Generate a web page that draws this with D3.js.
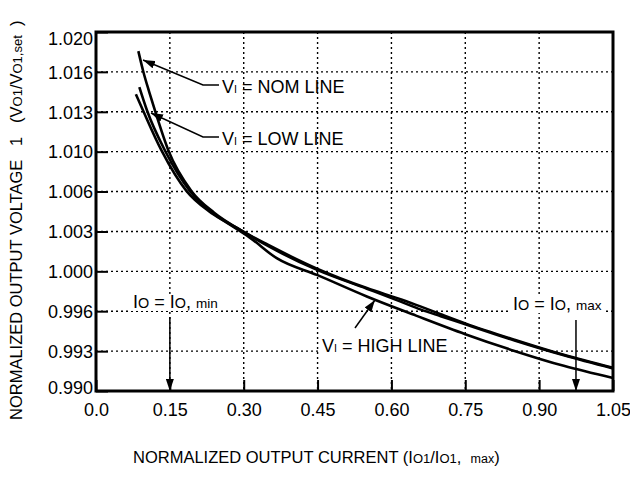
<!DOCTYPE html>
<html>
<head>
<meta charset="utf-8">
<script src="https://cdn.jsdelivr.net/npm/d3@7"></script>
<style>
  body { margin: 0; background: #fff; }
  svg { font-family: "Liberation Sans", Arial, Helvetica, sans-serif; }
  .title { white-space: pre; }
</style>
</head>
<body>
<svg id="chart" width="630" height="481"></svg>
<script>
// data
const xTicks = [0, 0.15, 0.30, 0.45, 0.60, 0.75, 0.90, 1.05];
const xTickLabels = ["0.0", "0.15", "0.30", "0.45", "0.60", "0.75", "0.90", "1.05"];
const yTicks = [0.990, 0.99333, 0.99667, 1.000, 1.00333, 1.00667, 1.010, 1.01333, 1.01667, 1.020];
const yTickLabels = ["0.990", "0.993", "0.996", "1.000", "1.003", "1.006", "1.010", "1.013", "1.016", "1.020"];

const xNom = [0.086, 0.096, 0.108, 0.120, 0.147, 0.194, 0.240, 0.300, 0.350, 0.45, 0.55, 0.62, 0.66, 0.70, 0.75, 0.85, 0.95, 1.05];
const yNom = [1.0184, 1.0167, 1.0150, 1.0134, 1.0101, 1.0067, 1.0049, 1.0033, 1.0022, 1.0002, 0.99860, 0.99765, 0.99705, 0.99642, 0.99565, 0.99428, 0.99302, 0.99194];

const xLow = [0.088, 0.104, 0.140, 0.191, 0.240, 0.300, 0.350, 0.45, 0.55, 0.62, 0.66, 0.70, 0.75, 0.85, 0.95, 1.05];
const yLow = [1.0154, 1.0134, 1.0101, 1.0067, 1.0048, 1.0033, 1.0021, 1.0001, 0.99855, 0.99745, 0.99680, 0.99625, 0.99558, 0.99422, 0.99298, 0.99188];

const xHigh = [0.081, 0.096, 0.133, 0.184, 0.230, 0.268, 0.313, 0.367, 0.45, 0.55, 0.65, 0.75, 0.85, 0.95, 1.05];
const yHigh = [1.0148, 1.0134, 1.0101, 1.0067, 1.0050, 1.0040, 1.0028, 1.0011, 0.99968, 0.99790, 0.99630, 0.99475, 0.99335, 0.99210, 0.99108];

const margin = { left: 96, right: 17, top: 32, bottom: 90 };
const width = 630 - margin.left - margin.right;
const height = 481 - margin.top - margin.bottom;

const svg = d3.select("#chart");
svg.append("defs").append("marker")
  .attr("id", "head")
  .attr("viewBox", "0 0 12 8")
  .attr("refX", 12).attr("refY", 4)
  .attr("markerWidth", 12).attr("markerHeight", 8)
  .attr("markerUnits", "userSpaceOnUse")
  .attr("orient", "auto")
  .append("path").attr("d", "M0,0 L12,4 L0,8 Z").attr("fill", "#000");

const g = svg.append("g").attr("transform", "translate(" + margin.left + "," + margin.top + ")");

const x = d3.scaleLinear().domain([0, 1.05]).range([0, width]);
const y = d3.scaleLinear().domain([0.990, 1.020]).range([height, 0]);

// dotted grid
const grid = g.append("g").attr("class", "grid");
grid.selectAll("line.v").data(xTicks.slice(1, -1)).enter().append("line")
  .attr("class", "v")
  .attr("x1", d => x(d)).attr("x2", d => x(d)).attr("y1", 0).attr("y2", height);
grid.selectAll("line.h").data(yTicks.slice(1, -1)).enter().append("line")
  .attr("class", "h")
  .attr("y1", d => y(d)).attr("y2", d => y(d)).attr("x1", 0).attr("x2", width);
grid.selectAll("line")
  .attr("stroke", "#000").attr("stroke-width", 1.4).attr("stroke-dasharray", "2,3");

// axes with inward ticks
let xAxis = g.append("g").attr("transform", "translate(0," + height + ")")
  .call(d3.axisBottom(x).tickValues(xTicks).tickSize(-11).tickPadding(12)
    .tickFormat((d, i) => xTickLabels[i]));
let yAxis = g.append("g")
  .call(d3.axisLeft(y).tickValues(yTicks).tickSize(-12).tickPadding(3)
    .tickFormat((d, i) => yTickLabels[i]));
[xAxis, yAxis].forEach(a => {
  a.select(".domain").remove();
  a.selectAll(".tick line").attr("stroke", "#000").attr("stroke-width", 2);
  a.selectAll(".tick text").attr("font-size", 18).attr("fill", "#000")
    .attr("font-family", "'Liberation Sans', Arial, sans-serif");
});
yAxis.selectAll(".tick text").attr("dy", (d, i) => i === yTicks.length - 1 ? "0.7em" : (i === 0 ? "0.15em" : "0.35em"));

// curves
const line = d3.line().x(d => x(d[0])).y(d => y(d[1])).curve(d3.curveMonotoneX);
const series = [
  d3.zip(xNom, yNom),
  d3.zip(xLow, yLow),
  d3.zip(xHigh, yHigh)
];
g.selectAll("path.curve").data(series).enter().append("path")
  .attr("class", "curve")
  .attr("d", line)
  .attr("fill", "none").attr("stroke", "#000").attr("stroke-width", 2.6);

// frame
g.append("rect").attr("width", width).attr("height", height)
  .attr("fill", "none").attr("stroke", "#000").attr("stroke-width", 3);

// annotations (data-space anchors)
function label(xv, yv, parts, bg) {
  const t = g.append("text").attr("x", x(xv)).attr("y", y(yv)).attr("font-size", 18).attr("fill", "#000");
  parts.forEach(p => t.append("tspan").attr("font-size", p[1] ? 18 * p[1] : 18).text(p[0]));
  if (bg) {
    const b = t.node().getBBox();
    g.insert("rect", () => t.node())
      .attr("x", b.x - 2).attr("y", b.y + 2).attr("width", b.width + 4).attr("height", b.height - 3)
      .attr("fill", "#fff");
  }
}
function leader(pts, withHead) {
  g.append("path")
    .attr("d", d3.line().x(d => x(d[0])).y(d => y(d[1]))(pts))
    .attr("fill", "none").attr("stroke", "#000").attr("stroke-width", 1.5)
    .attr("marker-end", withHead ? "url(#head)" : null);
}

leader([[0.2498, 1.01557], [0.2173, 1.01557], [0.0955, 1.01766]], true);
label(0.2559, 1.0149, [["V"], ["I", 0.6], [" = NOM LINE"]]);
leader([[0.2498, 1.01123], [0.2173, 1.01123], [0.1117, 1.01323]], true);
label(0.2559, 1.01056, [["V"], ["I", 0.6], [" = LOW LINE"]]);

label(0.0751, 0.99694, [["I"], ["O", 0.8], [" = I"], ["O", 0.8], [", "], ["min", 0.75]], true);
leader([[0.15, 0.99618], [0.15, 0.990]], true);
label(0.8469, 0.99677, [["I"], ["O", 0.8], [" = I"], ["O", 0.8], [", "], ["max", 0.75]], true);
leader([[0.9748, 0.99593], [0.9748, 0.990]], true);

label(0.459, 0.99326, [["V"], ["I", 0.6], [" = HIGH LINE"]], true);
leader([[0.526, 0.99526], [0.5666, 0.9976]], true);

// axis titles
svg.append("text").attr("class", "title").attr("x", 133).attr("y", 463).attr("font-size", 16.5).attr("fill", "#000")
  .call(t => {
    t.append("tspan").text("NORMALIZED OUTPUT CURRENT (I");
    t.append("tspan").attr("font-size", 13).text("O1");
    t.append("tspan").text("/I");
    t.append("tspan").attr("font-size", 13).text("O1");
    t.append("tspan").text(",  ");
    t.append("tspan").attr("font-size", 12.5).text("max");
    t.append("tspan").text(")");
  });
svg.append("text").attr("class", "title").attr("transform", "translate(22,420) rotate(-90)").attr("font-size", 16.5).attr("fill", "#000")
  .call(t => {
    t.append("tspan").text("NORMALIZED OUTPUT VOLTAGE   1   (V");
    t.append("tspan").attr("font-size", 13).text("O1");
    t.append("tspan").text("/V");
    t.append("tspan").attr("font-size", 13).text("O1,set");
    t.append("tspan").text("  )");
  });
</script>
</body>
</html>
